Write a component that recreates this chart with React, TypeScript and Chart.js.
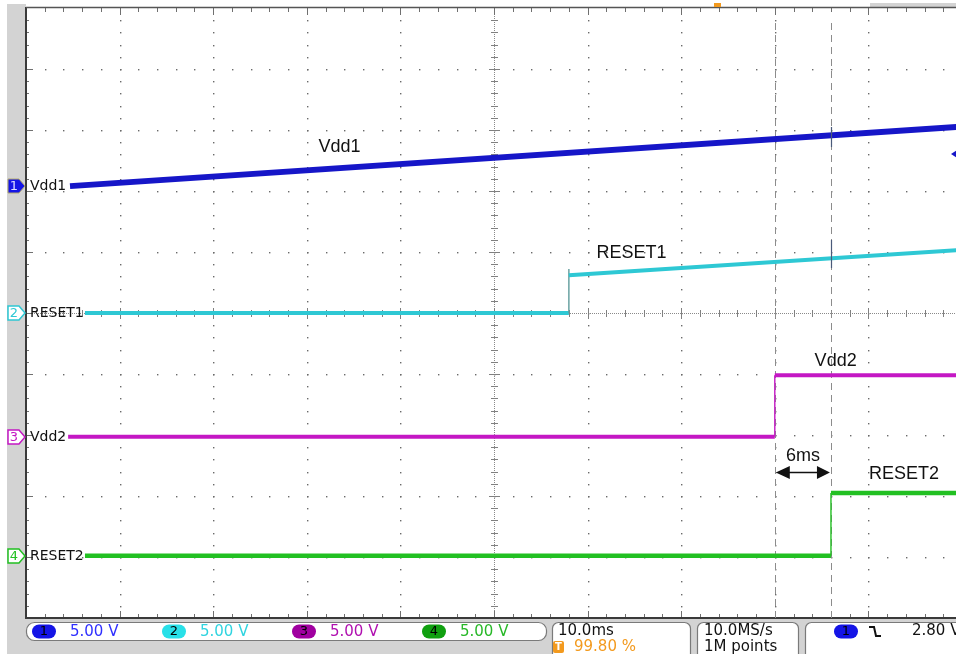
import React, { useEffect, useRef } from 'react';
import { Chart, registerables } from 'chart.js';

Chart.register(...registerables);

// ---- data (time in ms, amplitude in screen divisions, 5 V/div) ----
const vdd1TimeMs = [4.7, 99.4];
const vdd1Div = [7.08, 8.05];
const reset1TimeMs = [6.3, 58.0, 58.0, 58.0, 99.4];
const reset1Div = [5.0, 5.0, 5.72, 5.62, 6.03];
const vdd2TimeMs = [4.5, 80.0, 80.0, 99.4];
const vdd2Div = [2.97, 2.97, 3.98, 3.98];
const reset2TimeMs = [6.3, 86.0, 86.0, 99.4];
const reset2Div = [1.02, 1.02, 2.05, 2.05];

const cursorTimesMs = [80, 86];
const channelNames = ['Vdd1', 'RESET1', 'Vdd2', 'RESET2'];
const channelGroundDiv = [7.08, 5.0, 2.97, 1.02];
const channelScales = ['5.00 V', '5.00 V', '5.00 V', '5.00 V'];
const traceLabels = ['Vdd1', 'RESET1', 'Vdd2', 'RESET2'];
const traceLabelTimeMs = [33.5, 64.7, 86.5, 93.8];
const traceLabelDiv = [7.72, 5.98, 4.21, 2.36];
const deltaLabel = '6ms';
const timebase = '10.0ms';
const triggerPosition = '99.80 %';
const sampleRate = '10.0MS/s';
const recordLength = '1M points';
const triggerLevel = '2.80 V';

const COLORS = ['#1616c8', '#2ec8d4', '#c418c4', '#22c022'];
const PILL = ['#1414e6', '#28e0e8', '#a000a0', '#10a010'];
const TEXTC = ['#3030ff', '#30d4e0', '#b010b0', '#28b828'];

const toPts = (t: number[], v: number[]) => t.map((x, i) => ({ x, y: v[i] }));

const scopePlugin = {
  id: 'scope',
  beforeDraw(chart: any) {
    const { ctx, chartArea: a } = chart;
    const W = chart.width, H = chart.height;
    ctx.save();
    ctx.fillStyle = '#ffffff';
    ctx.fillRect(0, 0, W, H);
    ctx.fillStyle = '#d3d3d3';
    ctx.fillRect(7, 4, a.left - 7, H - 4);
    ctx.fillRect(7, a.bottom, W - 7, H - a.bottom);
    ctx.fillRect(870, 3, W - 870, 4);
    ctx.restore();
  },
  beforeDatasetsDraw(chart: any) {
    const { ctx, chartArea: a, scales } = chart;
    const xs = scales.x, ys = scales.y;
    ctx.save();
    ctx.fillStyle = '#6a6a6a';
    for (let d = 1; d <= 9; d++) {
      if (d === 5) continue;
      const px = Math.round(xs.getPixelForValue(d * 10));
      const py = Math.round(ys.getPixelForValue(d));
      for (let s = 1; s < 50; s++) {
        const yy = ys.getPixelForValue(s * 0.2);
        ctx.fillRect(px, Math.round(yy), 1.4, 1.4);
        const xx = xs.getPixelForValue(s * 2);
        if (xx < a.right) ctx.fillRect(Math.round(xx), py, 1.4, 1.4);
      }
    }
    // centre axes
    const cx = Math.round(xs.getPixelForValue(50));
    const cy = Math.round(ys.getPixelForValue(5));
    ctx.fillStyle = '#8a8a8a';
    for (let x = a.left; x < a.right; x += 2) ctx.fillRect(x, cy, 1, 1);
    for (let y = a.top; y < a.bottom; y += 2) ctx.fillRect(cx, y, 1, 1);
    ctx.strokeStyle = '#808080';
    ctx.lineWidth = 1;
    ctx.beginPath();
    for (let s = 1; s < 50; s++) {
      const xx = Math.round(xs.getPixelForValue(s * 2)) + 0.5;
      const len = s % 5 === 0 ? 5 : 3;
      if (xx < a.right) { ctx.moveTo(xx, cy - len); ctx.lineTo(xx, cy + len + 1); }
      const yy = Math.round(ys.getPixelForValue(s * 0.2)) + 0.5;
      ctx.moveTo(cx - len, yy); ctx.lineTo(cx + len + 1, yy);
    }
    ctx.stroke();
    // border ticks
    ctx.strokeStyle = '#707070';
    ctx.beginPath();
    for (let s = 1; s < 50; s++) {
      const xx = Math.round(xs.getPixelForValue(s * 2)) + 0.5;
      const major = s % 5 === 0;
      if (xx < a.right) {
        ctx.moveTo(xx, a.bottom); ctx.lineTo(xx, a.bottom - (major ? 7 : 4));
        ctx.moveTo(xx, a.top); ctx.lineTo(xx, a.top + (major ? 7 : 4));
      }
      const yy = Math.round(ys.getPixelForValue(s * 0.2)) + 0.5;
      ctx.moveTo(a.left, yy); ctx.lineTo(a.left + (major ? 7 : 3), yy);
    }
    ctx.stroke();
    // borders
    ctx.strokeStyle = '#3a3a3a';
    ctx.lineWidth = 2;
    ctx.beginPath();
    ctx.moveTo(a.left, a.top - 1); ctx.lineTo(a.left, a.bottom + 1);
    ctx.moveTo(a.left, a.bottom); ctx.lineTo(a.right, a.bottom);
    ctx.stroke();
    ctx.strokeStyle = '#555555';
    ctx.lineWidth = 1.5;
    ctx.beginPath();
    ctx.moveTo(a.left, a.top - 0.5); ctx.lineTo(a.right, a.top - 0.5);
    ctx.stroke();
    // cursors
    ctx.strokeStyle = '#8c8c8c';
    ctx.lineWidth = 1;
    ctx.setLineDash([7, 5]);
    ctx.beginPath();
    cursorTimesMs.forEach((t) => {
      const xx = Math.round(xs.getPixelForValue(t)) + 0.5;
      ctx.moveTo(xx, 23); ctx.lineTo(xx, a.bottom);
    });
    ctx.stroke();
    ctx.setLineDash([]);
    ctx.restore();
  },
  afterDraw(chart: any) {
    const { ctx, scales } = chart;
    const xs = scales.x, ys = scales.y;
    ctx.save();
    // cursor crossing marks on traces
    ctx.strokeStyle = '#4a5a7a';
    ctx.lineWidth = 1.2;
    const cx2 = Math.round(xs.getPixelForValue(cursorTimesMs[1])) + 0.5;
    ctx.beginPath();
    ctx.moveTo(cx2, 127); ctx.lineTo(cx2, 147);
    ctx.moveTo(cx2, 240); ctx.lineTo(cx2, 268);
    ctx.stroke();

    // channel markers and labels on the left
    ctx.textBaseline = 'middle';
    channelGroundDiv.forEach((g, i) => {
      const y = Math.round(ys.getPixelForValue(g));
      const x0 = 8, x1 = 19, tip = 25;
      ctx.beginPath();
      ctx.moveTo(x0, y - 7); ctx.lineTo(x1, y - 7); ctx.lineTo(tip, y);
      ctx.lineTo(x1, y + 7); ctx.lineTo(x0, y + 7); ctx.closePath();
      if (i === 0) {
        ctx.fillStyle = PILL[0]; ctx.fill();
        ctx.strokeStyle = '#b0a870'; ctx.lineWidth = 1; ctx.stroke();
        ctx.fillStyle = '#dcdcff';
      } else {
        ctx.fillStyle = '#ffffff'; ctx.fill();
        ctx.strokeStyle = COLORS[i]; ctx.lineWidth = 1.5; ctx.stroke();
        ctx.fillStyle = COLORS[i];
      }
      ctx.font = '13px "DejaVu Sans"';
      ctx.textAlign = 'center';
      ctx.fillText(String(i + 1), 14, y + 0.5);
      ctx.fillStyle = '#111111';
      ctx.textAlign = 'left';
      ctx.font = '14px "DejaVu Sans"';
      ctx.fillText(channelNames[i], 30, y);
    });

    // trace annotations
    ctx.font = '18px "Liberation Sans"';
    ctx.textAlign = 'center';
    ctx.fillStyle = '#111111';
    traceLabels.forEach((t, i) => {
      ctx.fillText(t, xs.getPixelForValue(traceLabelTimeMs[i]), ys.getPixelForValue(traceLabelDiv[i]));
    });
    const xa = xs.getPixelForValue(cursorTimesMs[0]);
    const xb = xs.getPixelForValue(cursorTimesMs[1]);
    const ya = Math.round(ys.getPixelForValue(2.39)) + 0.5;
    ctx.fillText(deltaLabel, (xa + xb) / 2, ys.getPixelForValue(2.66));
    ctx.strokeStyle = '#111111';
    ctx.lineWidth = 1.3;
    ctx.beginPath(); ctx.moveTo(xa + 10, ya); ctx.lineTo(xb - 10, ya); ctx.stroke();
    ctx.beginPath();
    ctx.moveTo(xa + 1, ya); ctx.lineTo(xa + 15, ya - 6.5); ctx.lineTo(xa + 15, ya + 6.5); ctx.closePath();
    ctx.moveTo(xb - 1, ya); ctx.lineTo(xb - 14, ya - 6.5); ctx.lineTo(xb - 14, ya + 6.5); ctx.closePath();
    ctx.fill();

    // top trigger-position marker and right trigger-level marker
    ctx.fillStyle = '#f39a1e';
    ctx.fillRect(714, 3, 7, 4);
    ctx.fillStyle = '#1616c8';
    ctx.beginPath();
    ctx.moveTo(951, 154); ctx.lineTo(957, 150); ctx.lineTo(957, 158); ctx.closePath();
    ctx.fill();

    // ---- status bar ----
    const top = 622, H = chart.height;
    ctx.fillStyle = '#ffffff';
    ctx.strokeStyle = '#7a7a7a';
    ctx.lineWidth = 1.2;
    ctx.beginPath(); ctx.roundRect(26.5, top + 0.5, 520, 18, 8); ctx.fill(); ctx.stroke();
    const boxes = [[552, 690], [697, 798], [805, 962]];
    boxes.forEach(([l, r]) => {
      ctx.beginPath(); ctx.roundRect(l + 0.5, top + 0.5, r - l, H - top + 12, 6); ctx.fill(); ctx.stroke();
    });
    ctx.textBaseline = 'middle';
    const pillX = [32, 162, 292, 422];
    pillX.forEach((px, i) => {
      ctx.fillStyle = PILL[i];
      ctx.beginPath(); ctx.roundRect(px, top + 2.5, 24, 14, 7); ctx.fill();
      ctx.fillStyle = '#000000';
      ctx.textAlign = 'center';
      ctx.font = '13px "DejaVu Sans"';
      ctx.fillText(String(i + 1), px + 12, top + 10);
      ctx.fillStyle = TEXTC[i];
      ctx.textAlign = 'left';
      ctx.font = '15px "DejaVu Sans"';
      ctx.fillText(channelScales[i], px + 38, top + 10);
    });
    ctx.fillStyle = '#111111';
    ctx.font = '15px "DejaVu Sans"';
    ctx.fillText(timebase, 558, top + 9);
    ctx.fillText(sampleRate, 704, top + 9);
    ctx.fillText(recordLength, 704, top + 25);
    ctx.fillStyle = '#f39a1e';
    ctx.beginPath(); ctx.roundRect(553, top + 19, 11, 12, 2); ctx.fill();
    ctx.fillStyle = '#ffffff';
    ctx.font = 'bold 10px "DejaVu Sans"';
    ctx.textAlign = 'center';
    ctx.fillText('T', 558.5, top + 25.5);
    ctx.textAlign = 'left';
    ctx.fillStyle = '#f39a1e';
    ctx.font = '15px "DejaVu Sans"';
    ctx.fillText(triggerPosition, 574, top + 25);
    ctx.fillStyle = PILL[0];
    ctx.beginPath(); ctx.roundRect(834, top + 2.5, 24, 14, 7); ctx.fill();
    ctx.fillStyle = '#000000';
    ctx.textAlign = 'center';
    ctx.font = '13px "DejaVu Sans"';
    ctx.fillText('1', 846, top + 10);
    ctx.strokeStyle = '#111111';
    ctx.lineWidth = 2;
    ctx.beginPath();
    ctx.moveTo(869, top + 5); ctx.lineTo(874, top + 5); ctx.lineTo(876, top + 14); ctx.lineTo(881, top + 14);
    ctx.stroke();
    ctx.textAlign = 'left';
    ctx.fillStyle = '#111111';
    ctx.font = '15px "DejaVu Sans"';
    ctx.fillText(triggerLevel, 912, top + 9);
    ctx.restore();
  },
};

const thinVertical = (w: number) => ({
  borderWidth: (c: any) => (c.p0.parsed.x === c.p1.parsed.x ? 1.4 : w),
});

export default function App() {
  const ref = useRef<HTMLCanvasElement>(null);
  useEffect(() => {
    if (!ref.current) return;
    const chart = new Chart(ref.current, {
      type: 'line',
      data: {
        datasets: [
          { label: 'Vdd1', data: toPts(vdd1TimeMs, vdd1Div), borderColor: COLORS[0], borderWidth: 6 },
          {
            label: 'RESET1', data: toPts(reset1TimeMs, reset1Div), borderColor: COLORS[1], borderWidth: 4,
            segment: {
              borderWidth: (c: any) => (c.p0.parsed.x === c.p1.parsed.x ? 1.4 : 4),
              borderColor: (c: any) => (c.p0.parsed.x === c.p1.parsed.x ? '#5f9c9c' : COLORS[1]),
            },
          },
          { label: 'Vdd2', data: toPts(vdd2TimeMs, vdd2Div), borderColor: COLORS[2], borderWidth: 4, segment: thinVertical(4) },
          { label: 'RESET2', data: toPts(reset2TimeMs, reset2Div), borderColor: COLORS[3], borderWidth: 4.5, segment: thinVertical(4.5) },
        ],
      },
      options: {
        animation: false,
        responsive: false,
        events: [],
        layout: { padding: { left: 26, top: 8, right: 0, bottom: 36 } },
        elements: { point: { radius: 0 }, line: { tension: 0, borderCapStyle: 'butt' } },
        plugins: { legend: { display: false }, tooltip: { enabled: false } },
        scales: {
          x: { type: 'linear', min: 0, max: 930 / 9.36, display: false },
          y: { type: 'linear', min: 0, max: 10, display: false },
        },
      },
      plugins: [scopePlugin],
    });
    return () => chart.destroy();
  }, []);
  return (
    <div style={{ position: 'fixed', left: 0, top: 0, width: 956, height: 654 }}>
      <canvas ref={ref} width={956} height={654} style={{ display: 'block' }} />
    </div>
  );
}
